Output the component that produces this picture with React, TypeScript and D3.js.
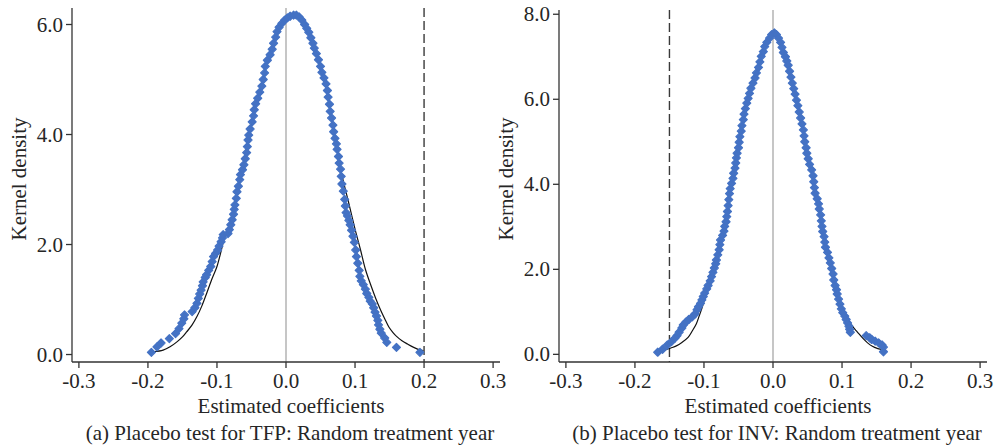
import React from "react";
import * as d3 from "d3";

type Pt = [number, number];

// x ticks shared by both panels
const xTicks = [-0.3, -0.2, -0.1, 0.0, 0.1, 0.2, 0.3];
const tfpYTicks = [0, 2, 4, 6];
const invYTicks = [0, 2, 4, 6, 8];

// placebo coefficients with their kernel density (markers), TFP
const tfpPoints: Pt[] = [
  [-0.195, 0.04], [-0.187, 0.14], [-0.181, 0.21], [-0.169, 0.29], [-0.16, 0.38], [-0.155, 0.47],
  [-0.151, 0.57], [-0.148, 0.65], [-0.147, 0.72], [-0.136, 0.78], [-0.132, 0.85], [-0.129, 0.93],
  [-0.127, 1.02], [-0.125, 1.1], [-0.123, 1.17], [-0.121, 1.25], [-0.12, 1.32], [-0.117, 1.4],
  [-0.115, 1.45], [-0.112, 1.53], [-0.109, 1.6], [-0.107, 1.69], [-0.105, 1.78], [-0.102, 1.84],
  [-0.099, 1.9], [-0.097, 1.97], [-0.094, 2.05], [-0.092, 2.12], [-0.091, 2.18],
  [-0.084, 2.2], [-0.082, 2.27], [-0.08, 2.36], [-0.078, 2.45], [-0.076, 2.55], [-0.075, 2.64],
  [-0.074, 2.72], [-0.072, 2.84], [-0.071, 2.96], [-0.069, 3.06], [-0.067, 3.18], [-0.066, 3.27],
  [-0.063, 3.36], [-0.061, 3.45], [-0.059, 3.56], [-0.057, 3.67], [-0.056, 3.78], [-0.055, 3.9],
  [-0.054, 3.99], [-0.052, 4.1], [-0.049, 4.23], [-0.047, 4.34], [-0.046, 4.45], [-0.044, 4.56],
  [-0.041, 4.66], [-0.038, 4.77], [-0.035, 4.88], [-0.033, 5.0], [-0.031, 5.12], [-0.03, 5.24],
  [-0.027, 5.35], [-0.023, 5.45], [-0.02, 5.55], [-0.018, 5.66], [-0.015, 5.77], [-0.013, 5.87],
  [-0.01, 5.95], [-0.006, 6.02], [-0.002, 6.08], [0.002, 6.12], [0.006, 6.15], [0.011, 6.17],
  [0.015, 6.17], [0.019, 6.14], [0.023, 6.08], [0.027, 6.0], [0.03, 5.93], [0.033, 5.86],
  [0.036, 5.76], [0.039, 5.66], [0.041, 5.57], [0.044, 5.47], [0.047, 5.36], [0.05, 5.24],
  [0.052, 5.13], [0.055, 5.03], [0.058, 4.92], [0.06, 4.8], [0.061, 4.68], [0.063, 4.55],
  [0.064, 4.42], [0.066, 4.3], [0.068, 4.17], [0.069, 4.05], [0.071, 3.93], [0.073, 3.83],
  [0.074, 3.73], [0.076, 3.6], [0.077, 3.48], [0.079, 3.37], [0.08, 3.24], [0.081, 3.1],
  [0.083, 2.97], [0.085, 2.82], [0.086, 2.7], [0.087, 2.58], [0.089, 2.52], [0.091, 2.44],
  [0.093, 2.36], [0.095, 2.26], [0.097, 2.15], [0.099, 2.04], [0.101, 1.9], [0.102, 1.78],
  [0.104, 1.66], [0.106, 1.53], [0.107, 1.42], [0.109, 1.34], [0.112, 1.27], [0.115, 1.19],
  [0.117, 1.11], [0.12, 1.04], [0.122, 0.97], [0.125, 0.92], [0.127, 0.85], [0.129, 0.77],
  [0.131, 0.7], [0.133, 0.62], [0.134, 0.54], [0.136, 0.46], [0.138, 0.39], [0.143, 0.3],
  [0.146, 0.22], [0.16, 0.13], [0.194, 0.04],
];

// kernel density line, TFP
const tfpCurve: Pt[] = [
  [-0.192, 0.05], [-0.178, 0.08], [-0.168, 0.14], [-0.158, 0.23], [-0.15, 0.32], [-0.144, 0.41],
  [-0.136, 0.54], [-0.129, 0.69], [-0.122, 0.88], [-0.115, 1.11], [-0.108, 1.35], [-0.1, 1.6],
  [-0.094, 1.88], [-0.088, 2.17], [-0.082, 2.3], [-0.075, 2.62], [-0.07, 2.95], [-0.065, 3.25],
  [-0.06, 3.55], [-0.055, 3.92], [-0.05, 4.2], [-0.045, 4.5], [-0.04, 4.72], [-0.035, 4.92],
  [-0.03, 5.2], [-0.025, 5.4], [-0.02, 5.58], [-0.015, 5.77], [-0.01, 5.95], [-0.005, 6.05],
  [0.0, 6.11], [0.005, 6.15], [0.01, 6.17], [0.015, 6.17], [0.02, 6.13], [0.025, 6.05],
  [0.03, 5.94], [0.035, 5.8], [0.04, 5.63], [0.045, 5.44], [0.05, 5.25], [0.055, 5.02],
  [0.06, 4.8], [0.065, 4.4], [0.07, 4.02], [0.075, 3.7], [0.08, 3.32], [0.09, 2.8],
  [0.1, 2.28], [0.108, 1.9], [0.115, 1.55], [0.122, 1.29], [0.13, 1.02], [0.137, 0.81],
  [0.143, 0.65], [0.149, 0.5], [0.155, 0.4], [0.161, 0.32], [0.168, 0.25], [0.176, 0.19],
  [0.185, 0.13], [0.195, 0.08], [0.199, 0.07],
];

// placebo coefficients with their kernel density (markers), INV
const invPoints: Pt[] = [
  [-0.167, 0.05], [-0.16, 0.12], [-0.153, 0.22], [-0.147, 0.3], [-0.142, 0.38], [-0.139, 0.44],
  [-0.136, 0.52], [-0.132, 0.62], [-0.13, 0.69], [-0.126, 0.76], [-0.122, 0.82], [-0.117, 0.88],
  [-0.113, 0.95], [-0.11, 1.05], [-0.108, 1.12], [-0.105, 1.2], [-0.103, 1.28], [-0.101, 1.36],
  [-0.099, 1.44], [-0.096, 1.54], [-0.094, 1.62], [-0.091, 1.73], [-0.089, 1.83], [-0.087, 1.93],
  [-0.085, 2.03], [-0.083, 2.13], [-0.082, 2.22], [-0.08, 2.34], [-0.078, 2.46], [-0.077, 2.58],
  [-0.076, 2.69], [-0.073, 2.8], [-0.071, 2.9], [-0.07, 3.01], [-0.068, 3.12], [-0.067, 3.24],
  [-0.066, 3.36], [-0.065, 3.5], [-0.064, 3.64], [-0.063, 3.78], [-0.062, 3.9], [-0.06, 4.02],
  [-0.058, 4.14], [-0.057, 4.26], [-0.055, 4.38], [-0.054, 4.5], [-0.053, 4.62], [-0.052, 4.73],
  [-0.05, 4.86], [-0.049, 4.99], [-0.048, 5.12], [-0.046, 5.25], [-0.045, 5.38], [-0.043, 5.52],
  [-0.042, 5.65], [-0.04, 5.78], [-0.038, 5.91], [-0.036, 6.02], [-0.034, 6.14], [-0.032, 6.26],
  [-0.029, 6.38], [-0.026, 6.5], [-0.024, 6.62], [-0.021, 6.75], [-0.019, 6.88], [-0.017, 7.01],
  [-0.014, 7.12], [-0.012, 7.24], [-0.009, 7.34], [-0.005, 7.44], [-0.002, 7.52], [0.002, 7.56],
  [0.005, 7.52], [0.008, 7.44], [0.011, 7.34], [0.013, 7.22], [0.015, 7.1], [0.018, 7.0],
  [0.02, 6.9], [0.022, 6.8], [0.024, 6.66], [0.026, 6.52], [0.028, 6.38], [0.03, 6.25],
  [0.032, 6.12], [0.034, 5.98], [0.036, 5.85], [0.038, 5.7], [0.04, 5.56], [0.042, 5.42],
  [0.044, 5.28], [0.045, 5.14], [0.046, 5.0], [0.048, 4.86], [0.049, 4.73], [0.051, 4.6],
  [0.053, 4.47], [0.056, 4.34], [0.058, 4.2], [0.059, 4.06], [0.06, 3.92], [0.061, 3.79],
  [0.064, 3.66], [0.066, 3.54], [0.067, 3.42], [0.069, 3.28], [0.07, 3.14], [0.071, 3.01],
  [0.072, 2.89], [0.074, 2.77], [0.075, 2.64], [0.076, 2.52], [0.079, 2.4], [0.081, 2.27],
  [0.083, 2.15], [0.085, 2.02], [0.087, 1.89], [0.088, 1.75], [0.09, 1.62], [0.092, 1.52],
  [0.093, 1.42], [0.095, 1.3], [0.097, 1.18], [0.099, 1.07], [0.101, 0.98], [0.104, 0.9],
  [0.106, 0.82], [0.108, 0.74], [0.11, 0.66], [0.111, 0.59], [0.112, 0.52],
  [0.135, 0.44], [0.14, 0.39], [0.143, 0.35], [0.148, 0.31], [0.153, 0.27], [0.158, 0.22],
  [0.16, 0.17], [0.16, 0.06],
];

// kernel density line, INV
const invCurve: Pt[] = [
  [-0.164, 0.07], [-0.155, 0.11], [-0.148, 0.15], [-0.14, 0.2], [-0.132, 0.28], [-0.123, 0.4],
  [-0.117, 0.55], [-0.111, 0.72], [-0.107, 0.9], [-0.103, 1.08], [-0.099, 1.3], [-0.094, 1.58],
  [-0.09, 1.8], [-0.085, 2.03], [-0.08, 2.34], [-0.075, 2.7], [-0.07, 3.02], [-0.065, 3.48],
  [-0.06, 4.0], [-0.055, 4.38], [-0.05, 4.84], [-0.045, 5.36], [-0.04, 5.78], [-0.035, 6.1],
  [-0.03, 6.36], [-0.025, 6.56], [-0.02, 6.83], [-0.015, 7.08], [-0.01, 7.3], [-0.005, 7.45],
  [0.0, 7.54], [0.003, 7.55], [0.008, 7.44], [0.013, 7.22], [0.018, 7.0], [0.023, 6.72],
  [0.028, 6.38], [0.033, 6.05], [0.038, 5.7], [0.043, 5.35], [0.048, 4.86], [0.053, 4.47],
  [0.058, 4.2], [0.063, 3.7], [0.068, 3.35], [0.073, 2.82], [0.078, 2.45], [0.083, 2.15],
  [0.088, 1.75], [0.093, 1.42], [0.098, 1.15], [0.102, 1.06], [0.107, 0.9], [0.112, 0.74],
  [0.117, 0.62], [0.122, 0.53], [0.13, 0.38], [0.137, 0.27], [0.144, 0.19], [0.151, 0.14],
  [0.158, 0.11],
];

const tfpActual = 0.2;
const invActual = -0.15;

const FONT = "'Liberation Serif', 'Times New Roman', serif";
const TEXT = "#262626";
const BLUE = "#4472c4";
const FS = 21;

interface PanelProps {
  left: number;
  right: number;
  top: number;
  bottom: number;
  yMin: number;
  yMax: number;
  yTicks: number[];
  points: Pt[];
  curve: Pt[];
  actual: number;
  caption: string;
}

const Panel: React.FC<PanelProps> = ({ left, right, top, bottom, yMin, yMax, yTicks, points, curve, actual, caption }) => {
  const x = d3.scaleLinear().domain([-0.31, 0.31]).range([left, right]);
  const y = d3.scaleLinear().domain([yMin, yMax]).range([bottom, top]);
  const line = d3
    .line<Pt>()
    .x((d) => x(d[0]))
    .y((d) => y(d[1]))
    .curve(d3.curveCatmullRom.alpha(0.5));
  const r = 4;
  const diamond = `M0,${-r}L${r},0L0,${r}L${-r},0Z`;
  const cx = (left + right) / 2 + 5;

  return (
    <g fontFamily={FONT} fill={TEXT}>
      {/* zero line */}
      <line x1={x(0)} x2={x(0)} y1={top} y2={bottom} stroke="#b3b3b3" strokeWidth={1.5} />
      {/* actual estimate */}
      <line x1={x(actual)} x2={x(actual)} y1={top} y2={bottom} stroke="#3a3a3a" strokeWidth={1.4} strokeDasharray="9,4" />
      <path d={line(curve) ?? ""} fill="none" stroke="#111" strokeWidth={1.2} />
      {points.map((d, i) => (
        <path
          key={i}
          d={diamond}
          transform={`translate(${x(d[0])},${y(d[1])})`}
          fill={BLUE}
          stroke={BLUE}
          strokeWidth={1.2}
          strokeLinejoin="round"
        />
      ))}
      {/* axes */}
      <line x1={left} x2={left} y1={top} y2={bottom} stroke="#333" strokeWidth={1.3} />
      <line x1={left} x2={right} y1={bottom} y2={bottom} stroke="#333" strokeWidth={1.3} />
      {yTicks.map((t) => (
        <g key={t}>
          <line x1={left - 6} x2={left} y1={y(t)} y2={y(t)} stroke="#333" strokeWidth={1.3} />
          <text x={left - 9} y={y(t)} dy="0.34em" textAnchor="end" fontSize={FS}>
            {t.toFixed(1)}
          </text>
        </g>
      ))}
      {xTicks.map((t) => (
        <g key={t}>
          <line x1={x(t)} x2={x(t)} y1={bottom} y2={bottom + 6} stroke="#333" strokeWidth={1.3} />
          <text x={x(t)} y={bottom + 26} textAnchor="middle" fontSize={FS}>
            {t.toFixed(1)}
          </text>
        </g>
      ))}
      <text x={cx} y={413} textAnchor="middle" fontSize={FS}>
        Estimated coefficients
      </text>
      <text x={cx - 1} y={440} textAnchor="middle" fontSize={FS}>
        {caption}
      </text>
      <text transform={`translate(${left - 46},179) rotate(-90)`} textAnchor="middle" fontSize={FS}>
        Kernel density
      </text>
    </g>
  );
};

export default function App() {
  return (
    <div style={{ position: "absolute", left: 0, top: 0 }}>
      <svg width={995} height={446} style={{ display: "block", background: "#fff" }}>
        <Panel
          left={72}
          right={500}
          top={8}
          bottom={362}
          yMin={-0.136}
          yMax={6.3}
          yTicks={tfpYTicks}
          points={tfpPoints}
          curve={tfpCurve}
          actual={tfpActual}
          caption="(a) Placebo test for TFP: Random treatment year"
        />
        <Panel
          left={559}
          right={987}
          top={10}
          bottom={362}
          yMin={-0.18}
          yMax={8.1}
          yTicks={invYTicks}
          points={invPoints}
          curve={invCurve}
          actual={invActual}
          caption="(b) Placebo test for INV: Random treatment year"
        />
      </svg>
    </div>
  );
}
